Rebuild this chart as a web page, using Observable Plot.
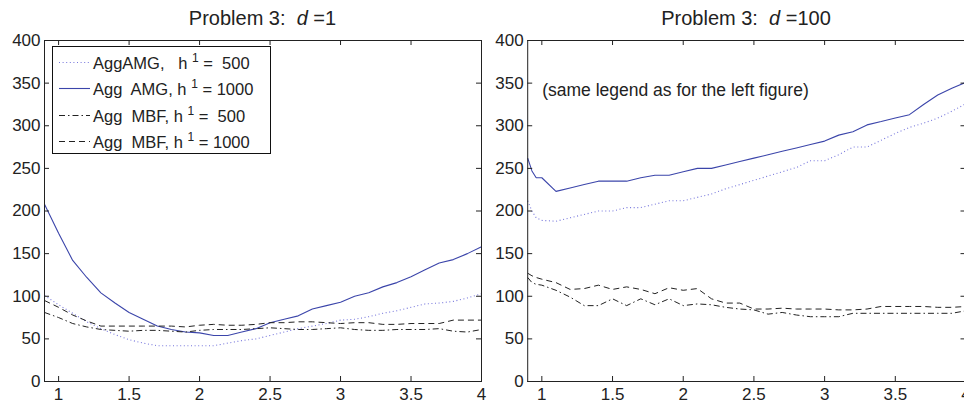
<!DOCTYPE html>
<html><head><meta charset="utf-8">
<script src="https://cdn.jsdelivr.net/npm/d3@7"></script>
<script src="https://cdn.jsdelivr.net/npm/@observablehq/plot@0.6"></script>
<style>
html,body{margin:0;padding:0;background:#fff;overflow:hidden;}
#wrap{position:relative;width:964px;height:404px;overflow:hidden;font-family:"Liberation Sans",Arial,Helvetica,sans-serif;color:#222;}
.panel{position:absolute;top:0;}
.title{position:absolute;top:6px;font-size:20px;line-height:24px;white-space:pre;transform:translateX(-50%);color:#222;}
#legend{position:absolute;left:52px;top:46px;width:219px;height:108px;border:1.4px solid #111;background:#fff;box-sizing:border-box;font-size:16.5px;color:#222;}
.row{position:absolute;left:0;height:26px;width:100%;white-space:pre;}
.row svg{position:absolute;left:6px;top:0;}
.row span{position:absolute;left:40px;top:3px;line-height:20px;}
.row sup{font-size:12px;line-height:0;vertical-align:7px;}
</style></head>
<body>
<div id="wrap"></div>
<script>
// ---------- data ----------
const xLeft = [0.9,1.0,1.1,1.2,1.3,1.4,1.5,1.6,1.7,1.8,1.9,2.0,2.1,2.2,2.3,2.4,2.5,2.6,2.7,2.8,2.9,3.0,3.1,3.2,3.3,3.4,3.5,3.6,3.7,3.8,3.9,4.0];
const leftAMG500  = [101,90,80,70,62,55,49,45,42,42,42,42,42,45,48,50,54,58,62,65,68,72,73,76,80,83,87,91,92,94,98,103];
const leftAMG1000 = [208,174,142,122,104,92,81,73,65,61,58,57,54,54,58,62,69,73,77,85,89,93,100,104,111,116,123,131,139,143,150,158];
const leftMBF500  = [81,75,68,64,61,60,59,60,60,59,58,60,61,61,61,62,63,62,61,61,62,63,61,60,60,61,61,61,62,59,58,61];
const leftMBF1000 = [95,87,78,71,65,65,65,65,65,65,64,66,67,66,66,67,69,69,70,70,69,68,69,69,67,67,68,68,68,72,72,72];

const xRight = [0.9,0.93,0.96,1.0,1.1,1.2,1.3,1.4,1.5,1.6,1.7,1.8,1.9,2.0,2.1,2.2,2.3,2.4,2.5,2.6,2.7,2.8,2.9,3.0,3.1,3.2,3.3,3.4,3.5,3.6,3.7,3.8,3.9,4.0];
const rightAMG500  = [212,200,192,189,188,192,196,200,200,204,204,208,212,212,216,220,226,231,236,241,246,251,259,259,266,275,275,283,291,298,303,309,317,326];
const rightAMG1000 = [262,247,239,239,223,227,231,235,235,235,239,242,242,246,250,250,254,258,262,266,270,274,278,282,289,293,301,305,309,313,325,336,344,351];
const rightMBF500  = [122,116,114,113,107,99,89,89,97,89,97,90,97,89,91,90,87,85,84,79,81,78,76,76,76,80,80,80,80,80,80,80,80,83];
const rightMBF1000 = [127,124,122,120,116,108,109,113,108,111,108,103,110,107,109,97,92,92,85,85,86,85,85,85,84,84,85,88,88,88,88,87,87,88];

const xTicks = [1,1.5,2,2.5,3,3.5,4];
const yTicks = [0,50,100,150,200,250,300,350,400];
const xDomain = [0.9,4];
const yDomain = [0,400];

const legendLabels = [
  "AggAMG,   h <sup>1</sup> =  500",
  "Agg  AMG, h <sup>1</sup> = 1000",
  "Agg  MBF, h <sup>1</sup> =  500",
  "Agg  MBF, h <sup>1</sup> = 1000"
];
const titles = ["Problem 3:  <i>d</i> =1", "Problem 3:  <i>d</i> =100"];
const note = "(same legend as for the left figure)";

// ---------- styles ----------
const seriesStyles = [
  {stroke:"#7676dc", dash:"1,2.6", width:1.1},
  {stroke:"#3b45aa", dash:null, width:1.1},
  {stroke:"#222", dash:"6,3,1.5,3", width:1},
  {stroke:"#222", dash:"6,4", width:1}
];

const H = 404, mTop = 40, mBottom = 23;
const innerH = H - mTop - mBottom;
const tick = 5;
const axisColor = "#222";

function panel(xs, seriesVals, width, mLeft, mRight, extra) {
  const innerW = width - mLeft - mRight;
  const lines = seriesVals.map((vals, k) => Plot.line(vals, {
    x: (d, i) => xs[i], y: d => d,
    stroke: seriesStyles[k].stroke,
    strokeWidth: seriesStyles[k].width,
    strokeDasharray: seriesStyles[k].dash,
    strokeLinejoin: "miter", strokeLinecap: "butt"
  }));
  return Plot.plot({
    width, height: H,
    marginTop: mTop, marginBottom: mBottom, marginLeft: mLeft, marginRight: mRight,
    x: {domain: xDomain}, y: {domain: yDomain},
    style: {fontSize: "17px", fontFamily: '"Liberation Sans", Arial, Helvetica, sans-serif', color: axisColor, background: "transparent", overflow: "visible"},
    marks: [
      ...lines,
      ...(extra || []),
      Plot.ruleX(xTicks, {x: d => d, insetTop: innerH - tick, stroke: axisColor, strokeWidth: 1}),
      Plot.ruleX(xTicks, {x: d => d, insetBottom: innerH - tick, stroke: axisColor, strokeWidth: 1}),
      Plot.ruleY(yTicks, {y: d => d, insetRight: innerW - tick, stroke: axisColor, strokeWidth: 1}),
      Plot.ruleY(yTicks, {y: d => d, insetLeft: innerW - tick, stroke: axisColor, strokeWidth: 1}),
      Plot.frame({stroke: axisColor, strokeWidth: 1}),
      Plot.axisX({ticks: xTicks, tickSize: 0, tickPadding: 6, tickFormat: d => String(d), label: null}),
      Plot.axisY({ticks: yTicks, tickSize: 0, tickPadding: 4, tickFormat: d => String(d), label: null})
    ]
  });
}

const wrap = document.getElementById("wrap");

const leftDiv = document.createElement("div");
leftDiv.className = "panel"; leftDiv.style.left = "0px"; leftDiv.style.width = "490px";
leftDiv.appendChild(panel(xLeft, [leftAMG500, leftAMG1000, leftMBF500, leftMBF1000], 490, 44, 9));
wrap.appendChild(leftDiv);

const rightDiv = document.createElement("div");
rightDiv.className = "panel"; rightDiv.style.left = "483px"; rightDiv.style.width = "500px";
rightDiv.appendChild(panel(xRight, [rightAMG500, rightAMG1000, rightMBF500, rightMBF1000], 500, 44.2, 17.5, [
  Plot.text([note], {text: d => d, frameAnchor: "top-left", dx: 14.5, dy: 42.7, textAnchor: "start", fill: axisColor, fontSize: 17.5})
]));
wrap.appendChild(rightDiv);

// titles
[262.5, 746].forEach((cx, i) => {
  const t = document.createElement("div");
  t.className = "title"; t.style.left = cx + "px"; t.innerHTML = titles[i];
  wrap.appendChild(t);
});

// legend
const leg = document.createElement("div");
leg.id = "legend";
legendLabels.forEach((lab, i) => {
  const r = document.createElement("div");
  r.className = "row"; r.style.top = (3 + i * 26.3) + "px";
  const s = seriesStyles[i];
  r.innerHTML = `<svg width="31" height="26"><line x1="0" x2="31" y1="12.5" y2="12.5" stroke="${s.stroke}" stroke-width="${s.width}" ${s.dash ? `stroke-dasharray="${s.dash}"` : ""}/></svg><span>${lab}</span>`;
  leg.appendChild(r);
});
wrap.appendChild(leg);
</script>
</body></html>
